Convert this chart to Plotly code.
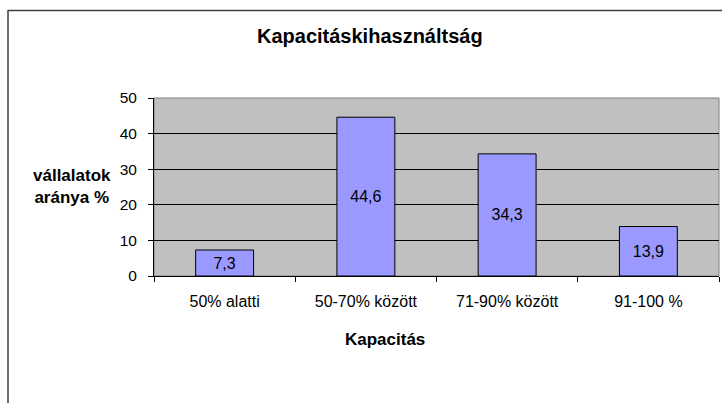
import plotly.graph_objects as go

categories = ["50% alatti", "50-70% között", "71-90% között", "91-100 %"]
values = [7.3, 44.6, 34.3, 13.9]
labels = [f"{v:.1f}".replace(".", ",") for v in values]
y_ticks = [0, 10, 20, 30, 40, 50]

W, H = 722, 403
ML, MR, MT, MB = 154, 3, 98, 127
PW, PH = W - ML - MR, H - MT - MB

FONT = "Liberation Sans, Arial, sans-serif"

fig = go.Figure()
fig.add_trace(go.Bar(
    x=categories, y=values,
    marker=dict(color="#9999FF", line=dict(color="black", width=1)),
    text=labels, textposition="inside", insidetextanchor="middle",
    constraintext="none",
    textfont=dict(family=FONT, size=16, color="black"),
    width=0.41,
    hoverinfo="skip",
))

def px_x(px):
    return (px - ML) / PW

def px_y(py):
    return (H - MB - py) / PH

fig.update_layout(
    width=W, height=H,
    margin=dict(l=ML, r=MR, t=MT, b=MB, autoexpand=False),
    paper_bgcolor="white",
    plot_bgcolor="#C0C0C0",
    showlegend=False,
    font=dict(family=FONT, color="black"),
    bargap=0.59,
)
fig.update_xaxes(
    type="category",
    showline=True, linecolor="black", linewidth=1,
    ticks="outside", ticklen=5, tickcolor="black", tickson="boundaries",
    tickfont=dict(family=FONT, size=16, color="black"),
    showgrid=False, mirror=False,
    ticklabelstandoff=11,
)
fig.update_yaxes(
    range=[0, 50], tickvals=y_ticks,
    showline=True, linecolor="black", linewidth=1,
    ticks="outside", ticklen=5, tickcolor="black",
    tickfont=dict(family=FONT, size=15.5, color="black"),
    showgrid=True, gridcolor="black", gridwidth=1,
    zeroline=False,
    ticklabelstandoff=8,
)

# plot area border (top/right) in gray
fig.add_shape(type="rect", xref="paper", yref="paper", x0=0, y0=0, x1=1, y1=1,
              line=dict(color="#808080", width=1), layer="below")

# outer chart border (left and top edges visible; the rest lies outside the image)
fig.add_shape(type="line", xref="paper", yref="paper",
              x0=px_x(8), y0=px_y(10.5), x1=px_x(W + 5), y1=px_y(10.5),
              line=dict(color="#404040", width=1.5))
fig.add_shape(type="line", xref="paper", yref="paper",
              x0=px_x(8), y0=px_y(10), x1=px_x(8), y1=px_y(H + 5),
              line=dict(color="#404040", width=1.5))

fig.add_annotation(text="<b>Kapacitáskihasználtság</b>", xref="paper", yref="paper",
                   x=px_x(370), y=px_y(36), xanchor="center", yanchor="middle",
                   showarrow=False, font=dict(family=FONT, size=20, color="black"))
fig.add_annotation(text="<b>vállalatok<br>aránya %</b>", xref="paper", yref="paper",
                   x=px_x(71.7), y=px_y(186), xanchor="center", yanchor="middle",
                   align="center", showarrow=False,
                   font=dict(family=FONT, size=17, color="black"))
fig.add_annotation(text="<b>Kapacitás</b>", xref="paper", yref="paper",
                   x=px_x(384.7), y=px_y(339), xanchor="center", yanchor="middle",
                   showarrow=False, font=dict(family=FONT, size=17, color="black"))

fig.write_html("out.html", config={"displayModeBar": False},
               post_script="document.body.style.margin='0px';document.body.style.overflow='hidden';")
